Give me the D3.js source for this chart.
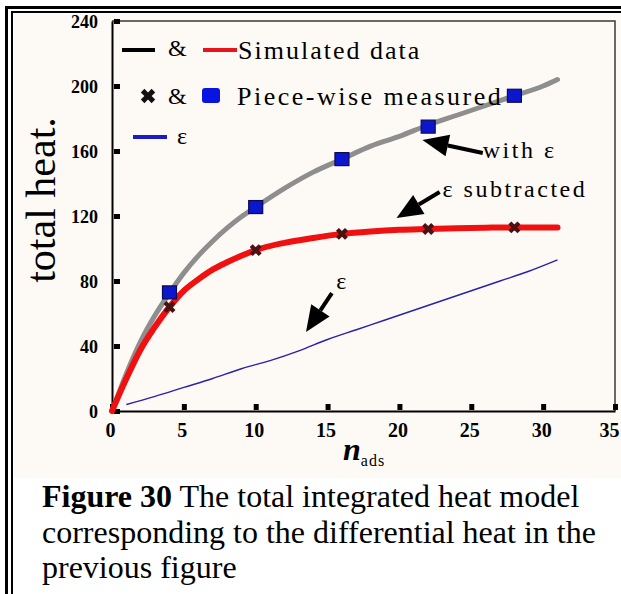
<!DOCTYPE html>
<html>
<head>
<meta charset="utf-8">
<script src="https://cdn.jsdelivr.net/npm/d3@7"></script>
<style>
  body { margin: 0; background: #fff; }
  svg { display: block; }
</style>
</head>
<body>
<svg id="chart" width="621" height="594"></svg>
<script>
// simulated curves (n_ads grid shared by both)
const nSim = [0, 1, 2, 3, 4, 5, 6, 7, 8, 9, 10, 12, 14, 16, 18, 20, 22, 24, 26, 28, 30, 31];
const simWithEps = [0, 23, 43, 59, 72.5, 85, 95.5, 104.5, 112.5, 119.5, 125.5, 137, 147, 155, 163, 169, 176, 182, 188, 194, 200, 204];
const simSubtracted = [0, 20, 38, 52, 64, 74, 81, 87, 91.5, 95.5, 99, 103.5, 106.5, 109, 110.5, 111.5, 112, 112.5, 112.8, 113, 113, 113];

// epsilon line
const nEps = [1, 3, 5, 7, 9, 11, 13, 15, 17, 19, 21, 23, 25, 27, 29, 31];
const epsValues = [4, 9, 14.5, 20, 26, 31, 37, 44, 50, 56, 62, 68, 74, 80, 86, 93];

// piece-wise measured points
const nMeas = [4, 10, 16, 22, 28];
const measWithEps = [73, 125.5, 155, 175, 194];
const measSubtracted = [64, 99, 109, 112, 113];

const xTicks = [0, 5, 10, 15, 20, 25, 30, 35];
const yTicks = [0, 40, 80, 120, 160, 200, 240];

// annotation arrows: [tail n, tail value, tip n, tip value]
const arrows = [
  [25.8, 158.8, 21.6, 166.8],
  [22.8, 134.8, 19.8, 118.8],
  [15.3, 72.6, 13.5, 48.6]
];
const notes = [
  {n: 25.8, v: 155.5, text: 'with ε'},
  {n: 23.0, v: 131.5, text: 'ε subtracted'},
  {n: 15.6, v: 75, text: 'ε'}
];

const svg = d3.select('#chart');
const serif = '"Liberation Serif", "Times New Roman", serif';

// outer double border of the page frame
svg.append('rect').attr('x', 0).attr('y', 0).attr('width', 621).attr('height', 594).attr('fill', '#fff');
svg.append('rect').attr('x', 14).attr('y', 14).attr('width', 607).attr('height', 464).attr('fill', '#fdfaf6');
svg.append('rect').attr('x', 5).attr('y', 6).attr('width', 616).attr('height', 3).attr('fill', '#000');
svg.append('rect').attr('x', 5).attr('y', 6).attr('width', 3).attr('height', 588).attr('fill', '#000');
svg.append('rect').attr('x', 11).attr('y', 11).attr('width', 610).attr('height', 2).attr('fill', '#000');
svg.append('rect').attr('x', 11).attr('y', 11).attr('width', 2).attr('height', 583).attr('fill', '#000');

const mLeft = 112, mRight = 615, mTop = 21, mBottom = 411;

const x = d3.scaleLinear().domain([0, 35]).range([mLeft, mRight]);
const y = d3.scaleLinear().domain([0, 240]).range([mBottom, mTop]);

// frame top/right
svg.append('path')
  .attr('d', `M${mLeft},${mTop}H${mRight}V${mBottom}`)
  .attr('fill', 'none')
  .attr('stroke', '#3a3a3a')
  .attr('stroke-width', 1.5);

// axes
const xAxis = svg.append('g')
  .attr('transform', `translate(0, ${mBottom})`)
  .call(d3.axisBottom(x).tickValues(xTicks).tickSizeInner(-6).tickSizeOuter(0).tickPadding(12));
const yAxis = svg.append('g')
  .attr('transform', `translate(${mLeft}, 0)`)
  .call(d3.axisLeft(y).tickValues(yTicks).tickSizeInner(-6).tickSizeOuter(0).tickPadding(14));

[xAxis, yAxis].forEach((g) => {
  g.select('.domain').attr('stroke', '#000').attr('stroke-width', 2);
  g.selectAll('.tick line').attr('stroke', '#000').attr('stroke-width', 5);
  g.selectAll('.tick text')
    .attr('fill', '#000')
    .style('font-family', serif)
    .style('font-weight', 'bold');
});
xAxis.selectAll('.tick text').style('font-size', '20px').attr('dx', (d) => (d === 35 ? -6 : -2));
yAxis.selectAll('.tick text').style('font-size', '18px').attr('dy', '0.36em');
xAxis.selectAll('.tick line').attr('transform', 'translate(0,-1)');
yAxis.selectAll('.tick line').attr('transform', 'translate(2,0)');

// axis titles
svg.append('text')
  .attr('transform', 'translate(55, 200) rotate(-90)')
  .attr('text-anchor', 'middle')
  .style('font-family', serif)
  .style('font-size', '42px')
  .text('total heat.');

const xl = svg.append('text')
  .attr('x', 343)
  .attr('y', 460)
  .style('font-family', serif);
xl.append('tspan').style('font-size', '32px').style('font-style', 'italic').style('font-weight', 'bold').text('n');
xl.append('tspan').attr('dy', 6).style('font-size', '16px').style('letter-spacing', '1px').text('ads');

// curves
const line = d3.line().x((d) => x(d[0])).y((d) => y(d[1])).curve(d3.curveMonotoneX);

svg.append('path')
  .attr('d', line(d3.zip(nEps, epsValues)))
  .attr('fill', 'none')
  .attr('stroke', '#2a22a8')
  .attr('stroke-width', 1.4);

svg.append('path')
  .attr('d', line(d3.zip(nSim, simWithEps)))
  .attr('fill', 'none')
  .attr('stroke', '#8e8e8e')
  .attr('stroke-width', 5)
  .attr('stroke-linecap', 'round');

svg.append('path')
  .attr('d', line(d3.zip(nSim, simSubtracted)))
  .attr('fill', 'none')
  .attr('stroke', '#f01010')
  .attr('stroke-width', 6)
  .attr('stroke-linecap', 'round');

// measured markers
svg.selectAll('.sq')
  .data(d3.zip(nMeas, measWithEps))
  .enter()
  .append('rect')
  .attr('class', 'sq')
  .attr('x', (d) => x(d[0]) - 7)
  .attr('y', (d) => y(d[1]) - 6.5)
  .attr('width', 14)
  .attr('height', 13)
  .attr('fill', '#0c16cc')
  .attr('stroke', '#0a0a55')
  .attr('stroke-width', 1.2);

const cross = d3.symbol().type(d3.symbolCross).size(90);
svg.selectAll('.xm')
  .data(d3.zip(nMeas, measSubtracted))
  .enter()
  .append('path')
  .attr('class', 'xm')
  .attr('d', cross)
  .attr('transform', (d) => `translate(${x(d[0])}, ${y(d[1])}) rotate(45)`)
  .attr('fill', '#4a1212');

// annotation arrows
arrows.forEach((a) => {
  const x0 = x(a[0]), y0 = y(a[1]), x1 = x(a[2]), y1 = y(a[3]);
  const ang = Math.atan2(y1 - y0, x1 - x0);
  const hl = 26, hw = 11;
  const bx = x1 - hl * Math.cos(ang), by = y1 - hl * Math.sin(ang);
  const px = -Math.sin(ang), py = Math.cos(ang);
  svg.append('line')
    .attr('x1', x0).attr('y1', y0).attr('x2', bx).attr('y2', by)
    .attr('stroke', '#000').attr('stroke-width', 4);
  svg.append('path')
    .attr('d', `M${x1},${y1}L${bx + hw * px},${by + hw * py}L${bx - hw * px},${by - hw * py}Z`)
    .attr('fill', '#000');
});

svg.selectAll('.note')
  .data(notes)
  .enter()
  .append('text')
  .attr('class', 'note')
  .attr('x', (d) => x(d.n))
  .attr('y', (d) => y(d.v))
  .style('font-family', serif)
  .style('font-size', '24px')
  .style('letter-spacing', '2.5px')
  .text((d) => d.text);

// legend
const lg = svg.append('g');
lg.append('line').attr('x1', 122).attr('x2', 155).attr('y1', 50).attr('y2', 50).attr('stroke', '#000').attr('stroke-width', 4);
lg.append('text').attr('x', 168).attr('y', 56).style('font-family', serif).style('font-size', '24px').text('&');
lg.append('line').attr('x1', 203).attr('x2', 237).attr('y1', 50).attr('y2', 50).attr('stroke', '#e8141b').attr('stroke-width', 4);
lg.append('text').attr('x', 238).attr('y', 59).style('font-family', serif).style('font-size', '26px').style('letter-spacing', '2px').text('Simulated data');

lg.append('path').attr('d', d3.symbol().type(d3.symbolCross).size(130)).attr('transform', 'translate(148, 96) rotate(45)').attr('fill', '#111');
lg.append('text').attr('x', 168).attr('y', 104).style('font-family', serif).style('font-size', '24px').text('&');
lg.append('rect').attr('x', 202).attr('y', 88).attr('width', 18).attr('height', 15).attr('rx', 3).attr('fill', '#0a14e0');
lg.append('text').attr('x', 237).attr('y', 105).style('font-family', serif).style('font-size', '26px').style('letter-spacing', '2.5px').text('Piece-wise measured');

lg.append('line').attr('x1', 133).attr('x2', 167).attr('y1', 137).attr('y2', 137).attr('stroke', '#1a1ac8').attr('stroke-width', 4);
lg.append('text').attr('x', 177).attr('y', 144).style('font-family', serif).style('font-size', '24px').text('ε');

// caption
const cap = svg.append('g').style('font-family', serif).style('font-size', '32px');
const l1 = cap.append('text').attr('x', 42).attr('y', 507);
l1.append('tspan').style('font-weight', 'bold').text('Figure 30');
l1.append('tspan').text(' The total integrated heat model');
cap.append('text').attr('x', 42).attr('y', 543).text('corresponding to the differential heat in the');
cap.append('text').attr('x', 42).attr('y', 578).text('previous figure');
</script>
</body>
</html>
